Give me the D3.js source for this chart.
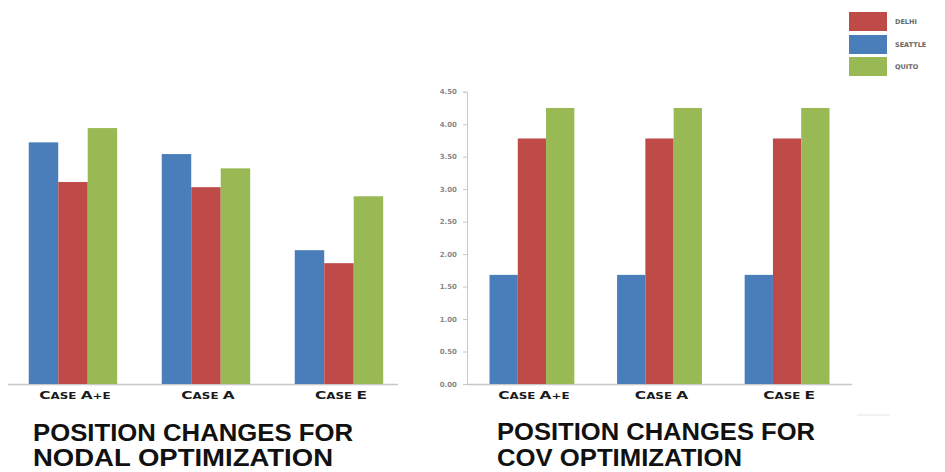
<!DOCTYPE html>
<html><head><meta charset="utf-8">
<script src="https://cdn.jsdelivr.net/npm/d3@7"></script>
<style>body{margin:0;background:#fff}svg{display:block}</style>
</head><body>
<script>
const cases = ["CASE A+E", "CASE A", "CASE E"];
const series = ["SEATTLE", "DELHI", "QUITO"];
const legendOrder = ["DELHI", "SEATTLE", "QUITO"];
// Nodal optimization (no axis shown; same units as right chart)
const nodalSeattle = [3.72, 3.54, 2.06];
const nodalDelhi   = [3.11, 3.03, 1.86];
const nodalQuito   = [3.94, 3.32, 2.89];
// COV optimization
const covSeattle = [1.68, 1.68, 1.68];
const covDelhi   = [3.78, 3.78, 3.78];
const covQuito   = [4.25, 4.25, 4.25];
const yTicks = [0, 0.5, 1, 1.5, 2, 2.5, 3, 3.5, 4, 4.5];
const titleLeft = ["POSITION CHANGES FOR", "NODAL OPTIMIZATION"];
const titleRight = ["POSITION CHANGES FOR", "COV OPTIMIZATION"];

const colors = {SEATTLE: "#4a7ebb", DELHI: "#be4b48", QUITO: "#98b954"};

const svg = d3.select("body").append("svg").attr("width", 945).attr("height", 472);

const y = d3.scaleLinear().domain([0, 4.5]).range([384, 91.7]);

function rows(s, d, q) {
  return cases.map((c, i) => ({c, SEATTLE: s[i], DELHI: d[i], QUITO: q[i]}));
}

function smallCaps(sel, str, big, small) {
  str.split(" ").forEach((w, wi) => {
    if (wi > 0) sel.append("tspan").attr("font-size", small).text(" ");
    sel.append("tspan").attr("font-size", big).text(w[0]);
    if (w.length > 1) sel.append("tspan").attr("font-size", small).text(w.slice(1));
  });
}

function drawChart(data, r0, r1, labelY) {
  const x0 = d3.scaleBand().domain(cases).range([r0, r1]).paddingInner(0.335).paddingOuter(0);
  const x1 = d3.scaleBand().domain(series).range([0, x0.bandwidth()]).padding(0);
  const g = svg.append("g");
  const grp = g.selectAll("g.grp").data(data).join("g")
    .attr("transform", d => `translate(${x0(d.c)},0)`);
  grp.selectAll("rect").data(d => series.map(s => ({s, v: d[s]}))).join("rect")
    .attr("x", d => x1(d.s)).attr("width", x1.bandwidth())
    .attr("y", d => y(d.v)).attr("height", d => y(0) - y(d.v))
    .attr("fill", d => colors[d.s]);
  g.selectAll("text.cat").data(cases).join("text").attr("class", "cat")
    .attr("x", d => x0(d) + x0.bandwidth() / 2 + 2).attr("y", labelY)
    .attr("text-anchor", "middle")
    .attr("font-family", "DejaVu Sans, sans-serif").attr("font-weight", "bold")
    .attr("fill", "#1a1a1a")
    .each(function(d) {
      const t = d3.select(this);
      smallCaps(t, d, 11, 8.5);
      const w = this.getComputedTextLength();
      t.attr("textLength", w * 1.4).attr("lengthAdjust", "spacingAndGlyphs");
    });
  return x0;
}

// Left chart
svg.append("line").attr("x1", 8).attr("x2", 398).attr("y1", 384.5).attr("y2", 384.5)
  .attr("stroke", "#c8c8c8").attr("stroke-width", 1.5);
drawChart(rows(nodalSeattle, nodalDelhi, nodalQuito), 28.75, 383.2, 399);

// Right chart axes
const axis = d3.axisLeft(y).tickValues(yTicks).tickFormat(d3.format(".2f")).tickSize(4);
const ax = svg.append("g").attr("transform", "translate(467,0)").call(axis);
ax.select(".domain").attr("stroke", "#c8c8c8");
ax.selectAll(".tick line").attr("stroke", "#c8c8c8");
ax.selectAll(".tick text").attr("font-family", "DejaVu Sans, sans-serif").attr("font-size", 7)
  .attr("font-weight", "bold").attr("fill", "#888").attr("x", -10);
svg.append("line").attr("x1", 467).attr("x2", 852).attr("y1", 384.5).attr("y2", 384.5)
  .attr("stroke", "#c8c8c8").attr("stroke-width", 1.5);
drawChart(rows(covSeattle, covDelhi, covQuito), 489.5, 829.5, 399);

// Legend
const lg = svg.append("g");
legendOrder.forEach((s, i) => {
  const yy = [12, 35, 57][i];
  lg.append("rect").attr("x", 849).attr("y", yy).attr("width", 38).attr("height", 19).attr("fill", colors[s]);
  lg.append("text").attr("x", 895).attr("y", yy + 12).text(s)
    .attr("font-family", "DejaVu Sans, sans-serif").attr("font-size", 6.5).attr("font-weight", "bold")
    .attr("fill", "#666");
});

// faint decoration line
svg.append("line").attr("x1", 857).attr("x2", 890).attr("y1", 415).attr("y2", 415)
  .attr("stroke", "#e4e4e4").attr("stroke-width", 1);

// Titles
function title(lines, x, ys, lens) {
  lines.forEach((t, i) => {
    svg.append("text").attr("x", x).attr("y", ys[i]).text(t)
      .attr("font-family", "Liberation Sans, Arial, sans-serif").attr("font-weight", "bold")
      .attr("font-size", 23).attr("fill", "#111")
      .attr("textLength", lens[i]).attr("lengthAdjust", "spacingAndGlyphs");
  });
}
title(titleLeft, 33, [441, 466], [320, 300]);
title(titleRight, 497, [440, 466], [318, 245]);
</script>
</body></html>
